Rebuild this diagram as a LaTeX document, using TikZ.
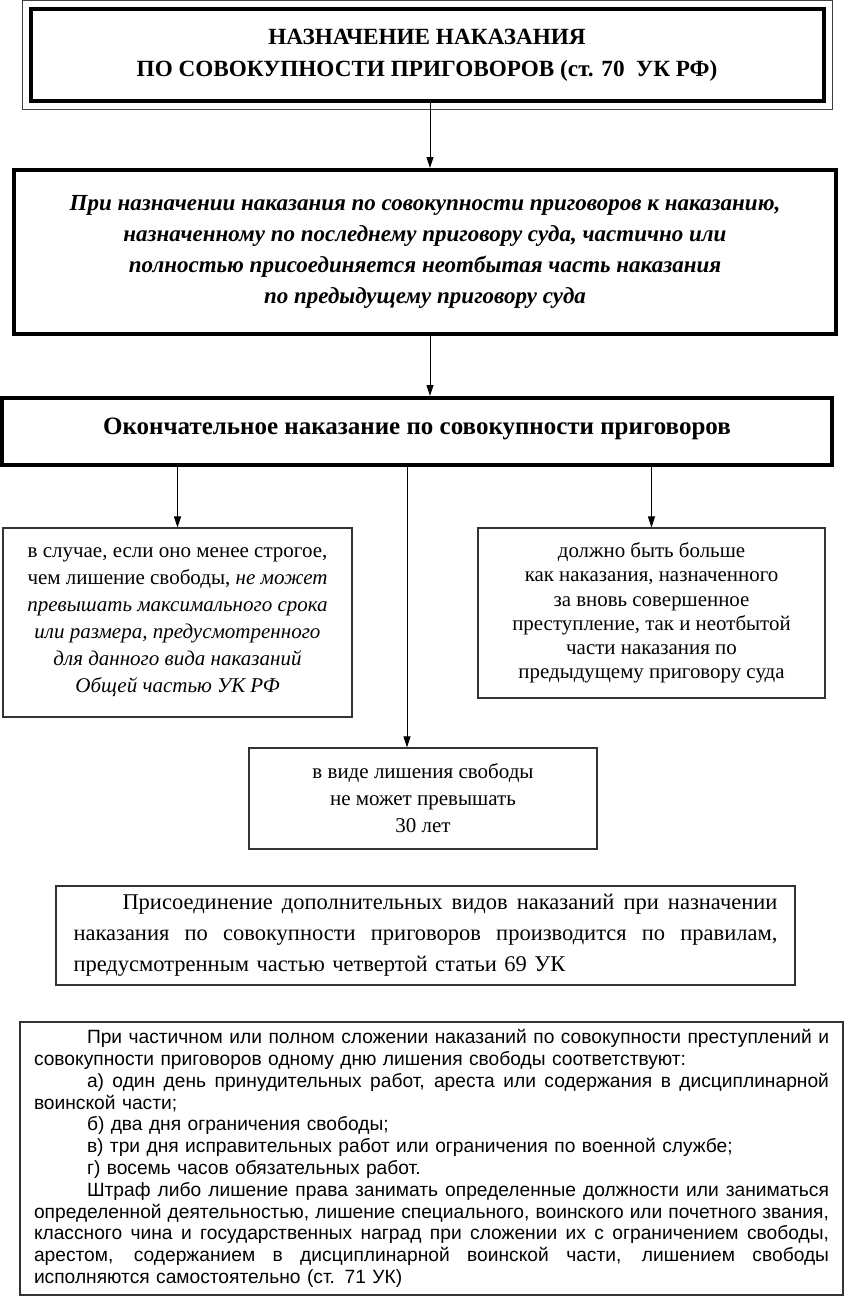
\documentclass[tikz,border=0pt]{standalone}
\usepackage{fontspec}
\setmainfont{Liberation Serif}
\newfontfamily\sansf{Liberation Sans}
\usetikzlibrary{arrows.meta,calc}
\newcommand\jl[2]{\noindent\hbox to #1{\spaceskip=\fontdimen2\font plus 1fil minus \fontdimen4\font\relax #2}}
\begin{document}
\begin{tikzpicture}[x=1pt,y=-1pt,
  thinbox/.style={draw=black!80, line width=1.1pt, inner sep=0pt},
  thickbox/.style={draw=black, line width=4pt, inner sep=0pt},
  arr/.style={-{Triangle[length=11pt,width=7pt]}, line width=1pt}]
\useasboundingbox[fill=white] (0,0) rectangle (848,1298);

\node[thickbox, minimum width=793pt, minimum height=91pt, align=center,
  font=\fontsize{23.2}{32}\selectfont\bfseries] (title) at (427,55)
  {НАЗНАЧЕНИЕ НАКАЗАНИЯ\\ПО СОВОКУПНОСТИ ПРИГОВОРОВ (ст. 70~~УК РФ)};
\draw[line width=1pt, black!75] ($(title.north west)+(-6.5,-6.5)$) rectangle ($(title.south east)+(6.5,6.5)$);

\node[thickbox, minimum width=822pt, minimum height=164pt, align=center,
  font=\fontsize{23}{31}\selectfont\bfseries\itshape] (rule) at (425,252)
  {При назначении наказания по совокупности приговоров к наказанию,\\
   назначенному по последнему приговору суда, частично или\\
   полностью присоединяется неотбытая часть наказания\\
   по предыдущему приговору суда};

\node[thickbox, minimum width=830pt, minimum height=67pt, align=center,
  font=\fontsize{25}{30}\selectfont\bfseries, text height=20pt, text depth=15pt] (final) at (417,431.5)
  {Окончательное наказание по совокупности приговоров};

\node[thinbox, minimum width=349pt, minimum height=189pt, align=center,
  font=\fontsize{21}{27}\selectfont] (left) at (177.5,622.5)
  {в случае, если оно менее строгое,\\
   чем лишение свободы, \textit{не может}\\
   \textit{превышать максимального срока}\\
   \textit{или размера, предусмотренного}\\
   \textit{для данного вида наказаний}\\
   \textit{Общей частью УК РФ}};

\node[thinbox, minimum width=347pt, minimum height=170pt, align=center,
  font=\fontsize{20.9}{24.2}\selectfont] (right) at (651.5,613)
  {должно быть больше\\
   как наказания, назначенного\\
   за вновь совершенное\\
   преступление, так и неотбытой\\
   части наказания по\\
   предыдущему приговору суда};

\node[thinbox, minimum width=348pt, minimum height=101pt, align=center,
  font=\fontsize{21}{27}\selectfont] (center) at (423,798.5)
  {в виде лишения свободы\\
   не может превышать\\
   30 лет};

\node[thinbox, minimum width=739pt, minimum height=99pt, text width=704pt, align=left,
  font=\fontsize{22.5}{31}\selectfont] (addl) at (425.5,935.5)
  {\jl{704pt}{\hskip49pt Присоединение дополнительных видов наказаний при назначении}\\
   \jl{704pt}{наказания по совокупности приговоров производится по правилам,}\\
   предусмотренным частью четвертой статьи 69 УК};

\node[thinbox, minimum width=823pt, minimum height=273pt, text width=795pt, align=left,
  font=\fontsize{19.2}{21.8}\selectfont\sansf] (note) at (431.5,1158.5)
  {\jl{795pt}{\hskip53pt При частичном или полном сложении наказаний по совокупности преступлений и}\\
   совокупности приговоров одному дню лишения свободы соответствуют:\\
   \jl{795pt}{\hskip53pt а) один день принудительных работ, ареста или содержания в дисциплинарной}\\
   воинской части;\\
   \hspace*{53pt}б) два дня ограничения свободы;\\
   \hspace*{53pt}в) три дня исправительных работ или ограничения по военной службе;\\
   \hspace*{53pt}г) восемь часов обязательных работ.\\
   \jl{795pt}{\hskip53pt Штраф либо лишение права занимать определенные должности или заниматься}\\
   \jl{795pt}{определенной деятельностью, лишение специального, воинского или почетного звания,}\\
   \jl{795pt}{классного чина и государственных наград при сложении их с ограничением свободы,}\\
   \jl{795pt}{арестом, содержанием в дисциплинарной воинской части, лишением свободы}\\
   исполняются самостоятельно (ст. 71 УК)};

\coordinate (ax) at (430,0);
\coordinate (cx) at (407,0);
\draw[arr] (title.south -| ax) -- (rule.north -| ax);
\draw[arr] (rule.south -| ax) -- (final.north -| ax);
\draw[arr] (final.south -| left.north) -- (left.north);
\draw[arr] (final.south -| cx) -- (center.north -| cx);
\draw[arr] (final.south -| right.north) -- (right.north);
\end{tikzpicture}
\end{document}
